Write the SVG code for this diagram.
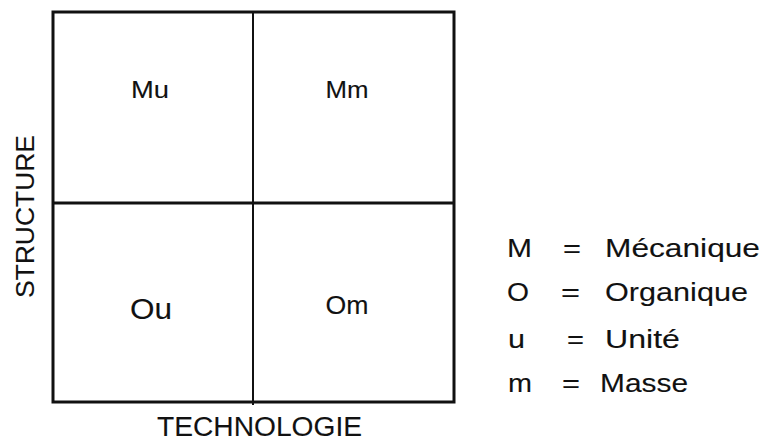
<svg xmlns="http://www.w3.org/2000/svg" width="766" height="442" viewBox="0 0 766 442">
<style>
text{font-family:"Liberation Sans",Arial,sans-serif;fill:#111;stroke:#111;stroke-width:0.1}
.cell{font-size:24px;text-anchor:middle}
.leg{font-size:25px}
.box{fill:#fff;stroke:#111;stroke-width:3}
.in{stroke:#111;fill:none}
</style>
<rect width="766" height="442" fill="#fff"/>
<g id="grid">
<rect class="box" x="53" y="12" width="401" height="390"/>
</g>
<g id="connectors">
<line class="in" x1="253" y1="12" x2="253" y2="405" stroke-width="2"/>
<line class="in" x1="53" y1="203" x2="454" y2="203" stroke-width="3"/>
</g>
<g id="Mu"><text class="cell" x="150" y="98" textLength="38" lengthAdjust="spacingAndGlyphs">Mu</text></g>
<g id="Mm"><text class="cell" x="347" y="98" textLength="43" lengthAdjust="spacingAndGlyphs">Mm</text></g>
<g id="Ou"><text class="cell" x="151" y="319" style="font-size:29px" textLength="42" lengthAdjust="spacingAndGlyphs">Ou</text></g>
<g id="Om"><text class="cell" x="347" y="314" style="font-size:25px" textLength="43" lengthAdjust="spacingAndGlyphs">Om</text></g>
<g id="axis-x"><text x="157" y="436" style="font-size:27px" textLength="205" lengthAdjust="spacingAndGlyphs">TECHNOLOGIE</text></g>
<g id="axis-y"><text transform="translate(34,298) rotate(-90)" x="0" y="0" style="font-size:26px" textLength="163" lengthAdjust="spacingAndGlyphs">STRUCTURE</text></g>
<g id="legend" class="leg">
<text class="leg" x="507" y="257" textLength="25" lengthAdjust="spacingAndGlyphs">M</text>
<text class="leg" x="563" y="257" textLength="18" lengthAdjust="spacingAndGlyphs">=</text>
<text class="leg" x="605" y="257" textLength="155" lengthAdjust="spacingAndGlyphs">Mécanique</text>
<text class="leg" x="507" y="301" textLength="22" lengthAdjust="spacingAndGlyphs">O</text>
<text class="leg" x="561" y="301" textLength="19" lengthAdjust="spacingAndGlyphs">=</text>
<text class="leg" x="605" y="301" textLength="143" lengthAdjust="spacingAndGlyphs">Organique</text>
<text class="leg" x="508" y="348" textLength="17" lengthAdjust="spacingAndGlyphs">u</text>
<text class="leg" x="567" y="348" textLength="17" lengthAdjust="spacingAndGlyphs">=</text>
<text class="leg" x="605" y="348" textLength="75" lengthAdjust="spacingAndGlyphs">Unité</text>
<text class="leg" x="508" y="392" textLength="24" lengthAdjust="spacingAndGlyphs">m</text>
<text class="leg" x="562" y="392" textLength="18" lengthAdjust="spacingAndGlyphs">=</text>
<text class="leg" x="600" y="392" textLength="88" lengthAdjust="spacingAndGlyphs">Masse</text>
</g>
</svg>
